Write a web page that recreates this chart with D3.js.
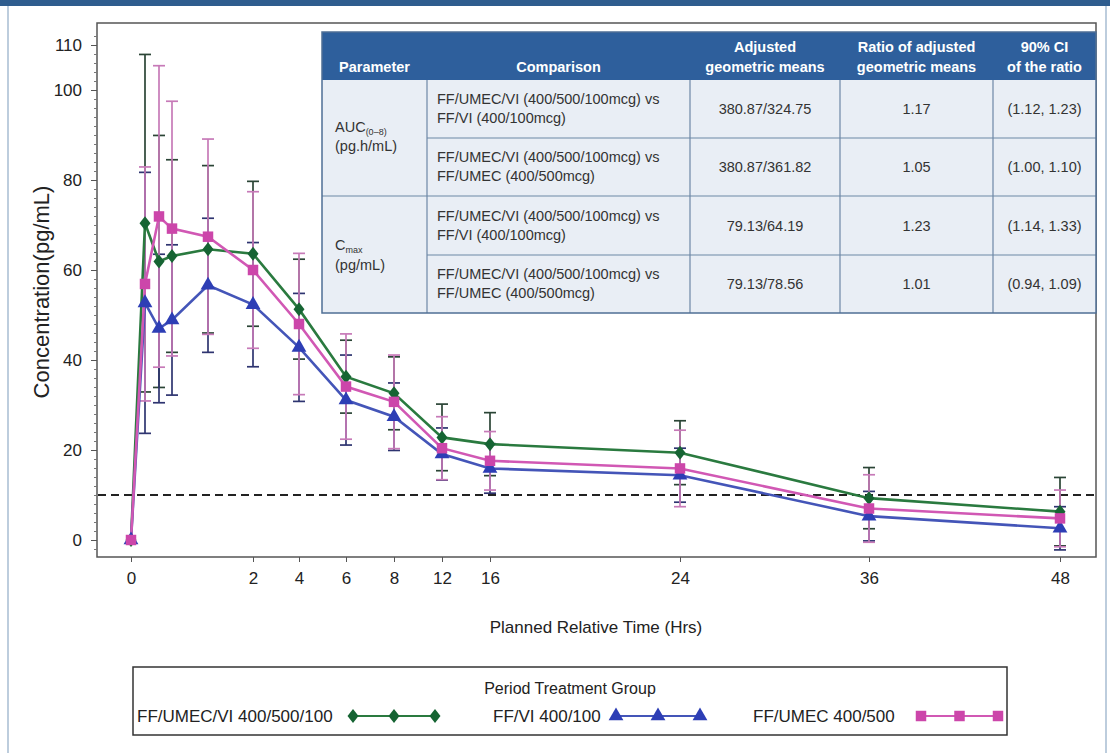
<!DOCTYPE html>
<html>
<head>
<meta charset="utf-8">
<script src="https://cdn.jsdelivr.net/npm/d3@7"></script>
<style>
  html, body { margin: 0; padding: 0; background: #fff; }
  svg { display: block; }
  .lab { font-family: "Liberation Sans", Arial, sans-serif; }
  .tbl { font-family: "Liberation Sans", Arial, sans-serif; }
</style>
</head>
<body>
<svg id="chart" width="1110" height="753"></svg>
<script>
// ---------------- DATA ----------------
const times = [0, 0.083, 0.25, 0.5, 1, 2, 4, 6, 8, 12, 16, 24, 36, 48];
const xTickValues = [0, 2, 4, 6, 8, 12, 16, 24, 36, 48];
const yTickValues = [0, 20, 40, 60, 80, 100, 110];

const seriesNames = ["FF/UMEC/VI 400/500/100", "FF/VI 400/100", "FF/UMEC 400/500"];
const meanTriple = [0, 70.4, 61.9, 63.1, 64.6, 63.6, 51.3, 36.3, 32.6, 22.8, 21.3, 19.4, 9.3, 6.3];
const sdTriple   = [0, 37.5, 28.0, 21.4, 18.6, 16.1, 11.1, 8.1, 8.1, 7.4, 7.0, 7.1, 6.8, 7.6];
const meanFfVi   = [0, 52.7, 47.0, 48.9, 56.6, 52.3, 42.8, 31.1, 27.4, 19.1, 15.9, 14.4, 5.3, 2.6];
const sdFfVi     = [0, 29.0, 16.5, 16.7, 14.9, 13.8, 12.0, 10.0, 7.5, 5.8, 5.5, 6.0, 5.5, 4.8];
const meanFfUmec = [0, 56.9, 71.9, 69.2, 67.4, 60.0, 48.0, 34.1, 30.7, 20.4, 17.6, 15.9, 7.0, 4.8];
const sdFfUmec   = [0, 26.0, 33.5, 28.3, 21.7, 17.4, 15.7, 11.7, 10.4, 7.0, 6.5, 8.5, 7.5, 6.3];
const lloq = 10;

const tableHeaders = [["Parameter"], ["Comparison"], ["Adjusted", "geometric means"], ["Ratio of adjusted", "geometric means"], ["90% CI", "of the ratio"]];
const tableComparisons = [
  ["FF/UMEC/VI (400/500/100mcg) vs", "FF/VI (400/100mcg)"],
  ["FF/UMEC/VI (400/500/100mcg) vs", "FF/UMEC (400/500mcg)"],
  ["FF/UMEC/VI (400/500/100mcg) vs", "FF/VI (400/100mcg)"],
  ["FF/UMEC/VI (400/500/100mcg) vs", "FF/UMEC (400/500mcg)"]
];
const tableMeans  = ["380.87/324.75", "380.87/361.82", "79.13/64.19", "79.13/78.56"];
const tableRatios = ["1.17", "1.05", "1.23", "1.01"];
const tableCIs    = ["(1.12, 1.23)", "(1.00, 1.10)", "(1.14, 1.33)", "(0.94, 1.09)"];

// ---------------- LAYOUT ----------------
const plot = { left: 97, top: 23, right: 1096, bottom: 557 };
// piecewise horizontal layout of the (non-linear) time axis
const timeRangePx = [131, 145, 159, 172, 208, 253, 299, 346, 394, 442, 490, 680, 869, 1060];

const styles = [
  { line: "#2a7a3f", marker: "#166433", err: "#2b4536", shape: "diamond" },
  { line: "#4455b8", marker: "#2d3eb5", err: "#2e3470", shape: "triangle" },
  { line: "#d158b4", marker: "#cc46aa", err: "#c77ab8", shape: "square" }
];

const svg = d3.select("#chart");

// outer slide frame
svg.append("rect").attr("x", 0).attr("y", 0).attr("width", 1110).attr("height", 6).attr("fill", "#2f5d8e");
svg.append("line").attr("x1", 8).attr("x2", 8).attr("y1", 6).attr("y2", 753).attr("stroke", "#a7bcd2").attr("stroke-width", 1.5);
svg.append("line").attr("x1", 1106).attr("x2", 1106).attr("y1", 6).attr("y2", 753).attr("stroke", "#a7bcd2").attr("stroke-width", 1.5);

const x = d3.scaleLinear().domain(times).range(timeRangePx);
const y = d3.scaleLinear().domain([0, 110]).range([540, 45]);

// plot frame
svg.append("rect")
  .attr("x", plot.left).attr("y", plot.top)
  .attr("width", plot.right - plot.left).attr("height", plot.bottom - plot.top)
  .attr("fill", "none").attr("stroke", "#555").attr("stroke-width", 1.5);

// Y axis (major + minor)
const minorVals = d3.range(-2, 113, 2).filter(v => !yTickValues.includes(v));
const yMinor = svg.append("g").attr("transform", `translate(${plot.left},0)`)
  .call(d3.axisLeft(y).tickValues(minorVals).tickSize(3).tickFormat(""));
yMinor.select(".domain").remove();
yMinor.selectAll("line").attr("stroke", "#777");

const yAxis = svg.append("g").attr("class", "lab").attr("transform", `translate(${plot.left},0)`)
  .call(d3.axisLeft(y).tickValues(yTickValues).tickSize(6).tickPadding(9));
yAxis.select(".domain").remove();
yAxis.selectAll("line").attr("stroke", "#555");
yAxis.selectAll("text").attr("font-size", 17).attr("fill", "#222");

// X axis
const xAxis = svg.append("g").attr("class", "lab").attr("transform", `translate(0,${plot.bottom})`)
  .call(d3.axisBottom(x).tickValues(xTickValues).tickSize(5).tickPadding(10));
xAxis.select(".domain").remove();
xAxis.selectAll("line").attr("stroke", "#555");
xAxis.selectAll("text").attr("font-size", 17).attr("fill", "#222");

// axis titles
svg.append("text").attr("class", "lab")
  .attr("transform", "translate(49,292) rotate(-90)")
  .attr("text-anchor", "middle").attr("font-size", 22).attr("fill", "#222")
  .text("Concentration(pg/mL)");
svg.append("text").attr("class", "lab")
  .attr("x", 596).attr("y", 633).attr("text-anchor", "middle")
  .attr("font-size", 17).attr("fill", "#222")
  .text("Planned Relative Time (Hrs)");

// LLOQ dashed line
svg.append("line")
  .attr("x1", plot.left + 1).attr("x2", plot.right - 1)
  .attr("y1", y(lloq)).attr("y2", y(lloq))
  .attr("stroke", "#222").attr("stroke-width", 2).attr("stroke-dasharray", "8,5");

// ---------------- TABLE ----------------
const colEdges = [322, 427, 690, 840, 993, 1096];
const rowEdges = [32, 80, 138, 196, 255, 313];
const tbl = svg.append("g").attr("class", "tbl");
tbl.append("rect").attr("x", colEdges[0]).attr("y", rowEdges[0])
  .attr("width", colEdges[5] - colEdges[0]).attr("height", rowEdges[1] - rowEdges[0]).attr("fill", "#2e5f9c");
tbl.append("rect").attr("x", colEdges[0]).attr("y", rowEdges[1])
  .attr("width", colEdges[5] - colEdges[0]).attr("height", rowEdges[5] - rowEdges[1]).attr("fill", "#e9eef5");
// grid
const gridColor = "#6d87a6";
[1, 2, 3, 4].forEach(ci => {
  tbl.append("line").attr("x1", colEdges[ci]).attr("x2", colEdges[ci])
    .attr("y1", rowEdges[1]).attr("y2", rowEdges[5]).attr("stroke", gridColor).attr("stroke-width", 1.2);
});
[2, 4].forEach(ri => {
  tbl.append("line").attr("x1", colEdges[1]).attr("x2", colEdges[5])
    .attr("y1", rowEdges[ri]).attr("y2", rowEdges[ri]).attr("stroke", gridColor).attr("stroke-width", 1.2);
});
tbl.append("line").attr("x1", colEdges[0]).attr("x2", colEdges[5])
  .attr("y1", rowEdges[3]).attr("y2", rowEdges[3]).attr("stroke", gridColor).attr("stroke-width", 1.2);
tbl.append("rect").attr("x", colEdges[0]).attr("y", rowEdges[0])
  .attr("width", colEdges[5] - colEdges[0]).attr("height", rowEdges[5] - rowEdges[0])
  .attr("fill", "none").attr("stroke", "#4f6f95").attr("stroke-width", 1.5);

// header text
tableHeaders.forEach((lines, i) => {
  const cx = (colEdges[i] + colEdges[i + 1]) / 2;
  const t = tbl.append("text").attr("x", cx).attr("text-anchor", "middle")
    .attr("font-size", 14.5).attr("font-weight", "bold").attr("fill", "#fff");
  if (lines.length === 1) {
    t.attr("y", 72).text(lines[0]);
  } else {
    t.append("tspan").attr("x", cx).attr("y", 52).text(lines[0]);
    t.append("tspan").attr("x", cx).attr("y", 72).text(lines[1]);
  }
});
// body rows
const bodyColor = "#333";
const bodySize = 14.5;
tableComparisons.forEach((lines, r) => {
  const cy = (rowEdges[r + 1] + rowEdges[r + 2]) / 2;
  const t = tbl.append("text").attr("font-size", bodySize).attr("fill", bodyColor);
  t.append("tspan").attr("x", colEdges[1] + 10).attr("y", cy - 5).text(lines[0]);
  t.append("tspan").attr("x", colEdges[1] + 10).attr("y", cy + 14).text(lines[1]);
  [tableMeans[r], tableRatios[r], tableCIs[r]].forEach((val, k) => {
    const cx = (colEdges[k + 2] + colEdges[k + 3]) / 2;
    tbl.append("text").attr("x", cx).attr("y", cy + 5).attr("text-anchor", "middle")
      .attr("font-size", bodySize).attr("fill", bodyColor).text(val);
  });
});
// parameter cells
const p1 = tbl.append("text").attr("font-size", bodySize).attr("fill", bodyColor);
p1.append("tspan").attr("x", colEdges[0] + 13).attr("y", 132).text("AUC");
p1.append("tspan").attr("font-size", 9).attr("dy", 3).text("(0–8)");
tbl.append("text").attr("font-size", bodySize).attr("fill", bodyColor)
  .attr("x", colEdges[0] + 13).attr("y", 151).text("(pg.h/mL)");
const p2 = tbl.append("text").attr("font-size", bodySize).attr("fill", bodyColor);
p2.append("tspan").attr("x", colEdges[0] + 13).attr("y", 250).text("C");
p2.append("tspan").attr("font-size", 9).attr("dy", 3).text("max");
tbl.append("text").attr("font-size", bodySize).attr("fill", bodyColor)
  .attr("x", colEdges[0] + 13).attr("y", 270).text("(pg/mL)");

// ---------------- SERIES ----------------
const series = [
  { name: seriesNames[0], mean: meanTriple, sd: sdTriple, st: styles[0] },
  { name: seriesNames[1], mean: meanFfVi, sd: sdFfVi, st: styles[1] },
  { name: seriesNames[2], mean: meanFfUmec, sd: sdFfUmec, st: styles[2] }
];

function drawMarker(g, shape, color, cx, cy) {
  if (shape === "diamond") {
    g.append("path").attr("d", `M${cx},${cy - 7}L${cx + 5.5},${cy}L${cx},${cy + 7}L${cx - 5.5},${cy}Z`).attr("fill", color);
  } else if (shape === "triangle") {
    g.append("path").attr("transform", `translate(${cx},${cy})`)
      .attr("d", d3.symbol().type(d3.symbolTriangle).size(95)()).attr("fill", color);
  } else {
    g.append("path").attr("transform", `translate(${cx},${cy})`)
      .attr("d", d3.symbol().type(d3.symbolSquare).size(110)()).attr("fill", color);
  }
}

const capW = 6;
// error bars
series.forEach(s => {
  const g = svg.append("g");
  times.forEach((t, i) => {
    if (s.sd[i] <= 0) return;
    const cx = x(t), hi = y(s.mean[i] + s.sd[i]), lo = y(s.mean[i] - s.sd[i]);
    g.append("line").attr("x1", cx).attr("x2", cx).attr("y1", hi).attr("y2", lo)
      .attr("stroke", s.st.err).attr("stroke-width", 1.7);
    [hi, lo].forEach(yy => g.append("line").attr("x1", cx - capW).attr("x2", cx + capW)
      .attr("y1", yy).attr("y2", yy).attr("stroke", s.st.err).attr("stroke-width", 1.7));
  });
});
// lines
const lineGen = d3.line().x((d, i) => x(times[i])).y(d => y(d));
series.forEach(s => {
  svg.append("path").datum(s.mean).attr("d", lineGen)
    .attr("fill", "none").attr("stroke", s.st.line).attr("stroke-width", 2.6);
});
// markers
series.forEach(s => {
  const g = svg.append("g");
  times.forEach((t, i) => drawMarker(g, s.st.shape, s.st.marker, x(t), y(s.mean[i])));
});

// ---------------- LEGEND ----------------
const lg = svg.append("g").attr("class", "lab");
lg.append("rect").attr("x", 133).attr("y", 667).attr("width", 874).attr("height", 68)
  .attr("fill", "#fff").attr("stroke", "#333").attr("stroke-width", 1.5);
lg.append("text").attr("x", 570).attr("y", 694).attr("text-anchor", "middle")
  .attr("font-size", 16).attr("fill", "#222").text("Period Treatment Group");
const legendItems = [
  { textX: 137, lineX: [353, 435] },
  { textX: 493, lineX: [616, 700] },
  { textX: 753, lineX: [921, 998] }
];
series.forEach((s, k) => {
  const it = legendItems[k];
  lg.append("text").attr("x", it.textX).attr("y", 722).attr("font-size", 17).attr("fill", "#222").text(s.name);
  lg.append("line").attr("x1", it.lineX[0]).attr("x2", it.lineX[1]).attr("y1", 716).attr("y2", 716)
    .attr("stroke", s.st.line).attr("stroke-width", 2);
  const mid = (it.lineX[0] + it.lineX[1]) / 2;
  [it.lineX[0], mid, it.lineX[1]].forEach(mx => drawMarker(lg, s.st.shape, s.st.marker, mx, 716));
});
</script>
</body>
</html>
